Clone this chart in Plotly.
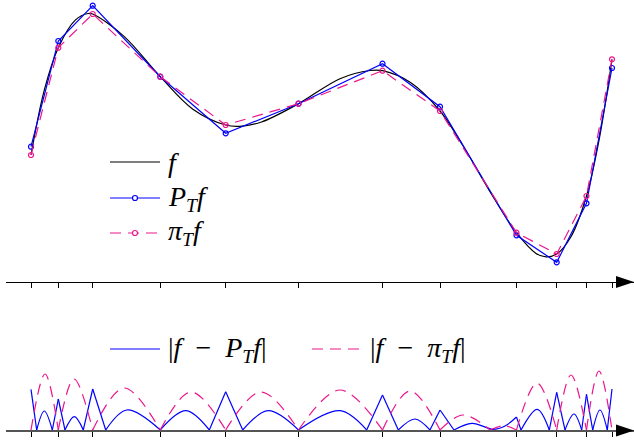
import plotly.graph_objects as go

W, H = 634, 443

# ---------------- data ----------------
# mesh nodes (normalised abscissa)
nodes = [0.0, 0.0470, 0.1062, 0.2225, 0.3351, 0.4604, 0.6050, 0.7040,
         0.8356, 0.9048, 0.9561, 1.0]

# samples of the smooth function f
f_x = [0.0, 0.0232, 0.0470, 0.0766, 0.0981, 0.1062, 0.1601, 0.2225, 0.2780,
       0.3351, 0.3597, 0.3967, 0.4604, 0.5318, 0.5835, 0.6050, 0.6532, 0.7040,
       0.7435, 0.7900, 0.8356, 0.8692, 0.8864, 0.9048, 0.9294, 0.9561, 0.9776, 1.0]
f_y = [1.270, 1.926, 2.343, 2.621, 2.685, 2.680, 2.456, 2.053, 1.731,
       1.570, 1.557, 1.600, 1.783, 2.033, 2.115, 2.113, 1.994, 1.710,
       1.363, 0.904, 0.493, 0.286, 0.252, 0.280, 0.453, 0.860, 1.417, 2.227]

# L2 projection P_T f at nodes
proj_vals = [1.353, 2.410, 2.763, 2.053, 1.487, 1.783, 2.183, 1.753,
             0.467, 0.197, 0.787, 2.140]

# nodal interpolant pi_T f at nodes
interp_vals = [1.270, 2.343, 2.680, 2.053, 1.570, 1.783, 2.113, 1.710,
               0.493, 0.280, 0.860, 2.227]

# |f - P_T f| (scaled), piecewise arcs
err_proj_x = [
    [0.0, 0.0098], [0.0098, 0.0229, 0.0367], [0.0367, 0.0470], [0.0470, 0.0585],
    [0.0585, 0.0745, 0.0900], [0.0900, 0.1062], [0.1062, 0.1286],
    [0.1286, 0.1652, 0.2225], [0.2225, 0.2663, 0.3069], [0.3069, 0.3351],
    [0.3351, 0.3644], [0.3644, 0.4084, 0.4604], [0.4604, 0.5318, 0.5778],
    [0.5778, 0.6050], [0.6050, 0.6322], [0.6322, 0.6609, 0.6867],
    [0.6867, 0.7040], [0.7040, 0.7281], [0.7281, 0.7590, 0.7952, 0.8158, 0.8356],
    [0.8356, 0.8434], [0.8434, 0.8714, 0.8921], [0.8921, 0.9048],
    [0.9048, 0.9191], [0.9191, 0.9346, 0.9478], [0.9478, 0.9561],
    [0.9561, 0.9668], [0.9668, 0.9793, 0.9919], [0.9919, 1.0],
]
err_proj_y = [
    [0.407, 0.0], [0.0, 0.19, 0.0], [0.0, 0.31], [0.31, 0.0],
    [0.0, 0.133, 0.0], [0.0, 0.41], [0.41, 0.0],
    [0.0, 0.20, 0.0], [0.0, 0.193, 0.0], [0.0, 0.383],
    [0.383, 0.0], [0.0, 0.193, 0.0], [0.0, 0.193, 0.0],
    [0.0, 0.35], [0.35, 0.0], [0.0, 0.11, 0.0],
    [0.0, 0.20], [0.20, 0.0], [0.0, 0.067, 0.007, 0.04, 0.13],
    [0.13, 0.0], [0.0, 0.207, 0.0], [0.0, 0.377],
    [0.377, 0.0], [0.0, 0.16, 0.0], [0.0, 0.357],
    [0.357, 0.0], [0.0, 0.20, 0.0], [0.0, 0.41],
]

# |f - pi_T f| (scaled), one arc per element (two in element 8)
err_interp_x = [
    [0.0, 0.0241, 0.0470], [0.0470, 0.0740, 0.1062], [0.1062, 0.1601, 0.2225],
    [0.2225, 0.2754, 0.3351], [0.3351, 0.3959, 0.4604], [0.4604, 0.5318, 0.6050],
    [0.6050, 0.6523, 0.7040], [0.7040, 0.7435, 0.7900], [0.7900, 0.8141, 0.8356],
    [0.8356, 0.8709, 0.9048], [0.9048, 0.9294, 0.9561], [0.9561, 0.9776, 1.0],
]
err_interp_y = [
    [0.0, 0.56, 0.0], [0.0, 0.51, 0.0], [0.0, 0.42, 0.0],
    [0.0, 0.38, 0.0], [0.0, 0.38, 0.0], [0.0, 0.40, 0.0],
    [0.0, 0.39, 0.0], [0.0, 0.15, 0.0], [0.0, 0.043, 0.0],
    [0.0, 0.47, 0.0], [0.0, 0.55, 0.0], [0.0, 0.59, 0.0],
]

SP = "&nbsp;"
labels = {
    "f": "<i>f</i>",
    "proj": "<i>P<sub>T</sub>f</i>",
    "interp": "<i>π<sub>T</sub>f</i>",
    "err_proj": f"|<i>f</i>{SP}{SP}−{SP}{SP}<i>P<sub>T</sub>f</i>|",
    "err_interp": f"|<i>f</i>{SP}{SP}−{SP}{SP}<i>π<sub>T</sub>f</i>|",
}


def flatten(pieces):
    out = []
    for i, p in enumerate(pieces):
        if i:
            out.append(None)
        out.extend(p)
    return out


BLUE = "#0000ff"
PINK = "#ec168c"
FONT = "Liberation Serif"
FS = 28
DASH = "11px,7px"

fig = go.Figure()

fig.add_trace(go.Scatter(
    x=f_x, y=f_y, mode="lines", name=labels["f"],
    line=dict(color="black", width=1.2, shape="spline", smoothing=1.0),
    xaxis="x", yaxis="y"))
fig.add_trace(go.Scatter(
    x=nodes, y=proj_vals, mode="lines+markers", name=labels["proj"],
    line=dict(color=BLUE, width=1.2),
    marker=dict(symbol="circle-open", size=5, color=BLUE, line=dict(width=1.2)),
    xaxis="x", yaxis="y"))
fig.add_trace(go.Scatter(
    x=nodes, y=interp_vals, mode="lines+markers", name=labels["interp"],
    line=dict(color=PINK, width=1.2, dash=DASH),
    marker=dict(symbol="circle-open", size=5, color=PINK, line=dict(width=1.2)),
    xaxis="x", yaxis="y"))

fig.add_trace(go.Scatter(
    x=flatten(err_proj_x), y=flatten(err_proj_y), mode="lines",
    name=labels["err_proj"], connectgaps=False,
    line=dict(color=BLUE, width=1.2, shape="spline"),
    xaxis="x2", yaxis="y2"))
fig.add_trace(go.Scatter(
    x=flatten(err_interp_x), y=flatten(err_interp_y), mode="lines",
    name=labels["err_interp"], connectgaps=False,
    line=dict(color=PINK, width=1.2, dash=DASH, shape="spline"),
    xaxis="x2", yaxis="y2"))

xr = [-25 / 581, 603 / 581]
axis_common = dict(domain=[6 / W, 1], range=xr, showline=True, ticks="outside",
                   ticklen=5, tickwidth=1, tickvals=nodes, showticklabels=False,
                   showgrid=False, zeroline=False, fixedrange=True)


def paper(xp, yp):
    return xp / W, 1 - yp / H


def arrow(yp):
    a = paper(634, yp)
    b = paper(616, yp - 6)
    c = paper(616, yp + 6)
    return dict(type="path", xref="paper", yref="paper",
                path=f"M{a[0]},{a[1]} L{b[0]},{b[1]} L{c[0]},{c[1]} Z",
                fillcolor="black", line=dict(width=0))


shapes = [arrow(282), arrow(430.5)]
annotations = []


def legend_entry(x0, yc, color, dash, marker, key):
    a = paper(x0, yc)
    b = paper(x0 + 50, yc)
    shapes.append(dict(type="line", xref="paper", yref="paper",
                       x0=a[0], y0=a[1], x1=b[0], y1=b[1],
                       line=dict(color=color, width=1.2, dash=dash)))
    if marker:
        c0 = paper(x0 + 25 - 2.5, yc - 2.5)
        c1 = paper(x0 + 25 + 2.5, yc + 2.5)
        shapes.append(dict(type="circle", xref="paper", yref="paper",
                           x0=c0[0], y0=c0[1], x1=c1[0], y1=c1[1],
                           fillcolor="white", line=dict(color=color, width=1.2)))
    t = paper(x0 + 56, yc)
    annotations.append(dict(text=labels[key], x=t[0], y=t[1], xref="paper",
                            yref="paper", xanchor="left", yanchor="middle",
                            showarrow=False,
                            font=dict(family=FONT, size=FS, color="black")))


legend_entry(110, 162, "black", "solid", False, "f")
legend_entry(110, 198, BLUE, "solid", True, "proj")
legend_entry(110, 233, PINK, DASH, True, "interp")
legend_entry(110, 349, BLUE, "solid", False, "err_proj")
legend_entry(312, 349, PINK, DASH, False, "err_interp")

fig.update_layout(
    width=W, height=H, margin=dict(l=0, r=0, t=0, b=0),
    paper_bgcolor="white", plot_bgcolor="white",
    xaxis=dict(**axis_common, anchor="y", linecolor="black", linewidth=1,
               tickcolor="black"),
    yaxis=dict(domain=[161 / H, 1], range=[0, 2.82], visible=False, fixedrange=True),
    xaxis2=dict(**axis_common, anchor="y2", linecolor="#555555", linewidth=2,
                tickcolor="black"),
    yaxis2=dict(domain=[13 / H, 113 / H], range=[0, 1.0], visible=False, fixedrange=True),
    shapes=shapes, annotations=annotations,
    showlegend=False,
)

fig.write_html("out.html", config={"displayModeBar": False},
               post_script="document.body.style.margin='0px';")
